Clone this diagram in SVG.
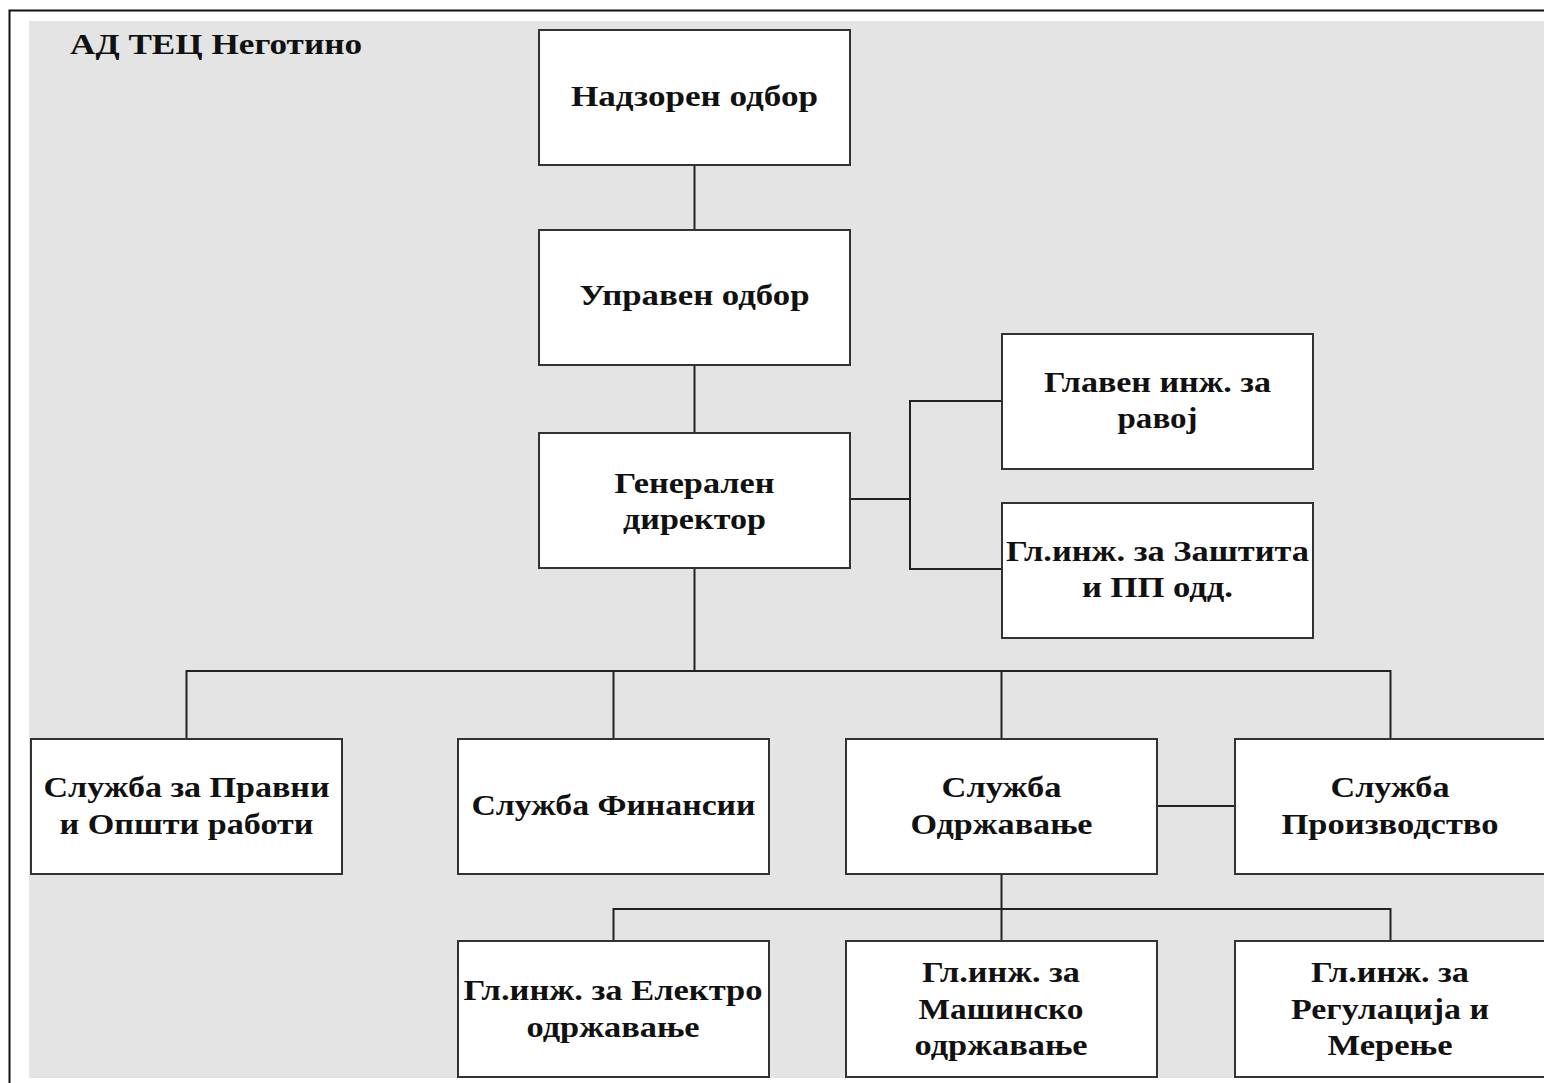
<svg xmlns="http://www.w3.org/2000/svg" width="1544" height="1083" viewBox="0 0 1544 1083">
<style>
.box{fill:#ffffff;stroke:#333333;stroke-width:2}
.lbl{font-family:"Liberation Serif","Times New Roman",serif;font-weight:bold;font-size:30px;fill:#111111;text-anchor:middle}
.ttl{font-family:"Liberation Serif","Times New Roman",serif;font-weight:bold;font-size:30px;fill:#111111}
.con{fill:none;stroke:#222222;stroke-width:2}
</style>
<rect x="0" y="0" width="1544" height="1083" fill="#ffffff"/>
<rect x="29" y="21" width="1515" height="1057" fill="#e4e4e4"/>
<path d="M9.5 1083 V10.5 H1544" fill="none" stroke="#111111" stroke-width="2"/>
<text class="ttl" x="70" y="54" textLength="292" lengthAdjust="spacingAndGlyphs">АД ТЕЦ Неготино</text>
<g id="connectors">
<path class="con" d="M694.5 165 V230 M694.5 365 V433 M694.5 568 V671"/>
<path class="con" d="M186.5 739 V671 H1390.5 V739 M613.5 671 V739 M1001.5 671 V739"/>
<path class="con" d="M850 499 H910 M1002 401 H910 V569 H1002"/>
<path class="con" d="M1157 806 H1235"/>
<path class="con" d="M1001.5 874 V909 M613.5 941 V909 H1390.5 V941 M1001.5 909 V941"/>
</g>
<g id="n1"><rect class="box" x="539" y="30" width="311" height="135"/><text class="lbl" x="694.5" y="106" textLength="247" lengthAdjust="spacingAndGlyphs">Надзорен одбор</text></g>
<g id="n2"><rect class="box" x="539" y="230" width="311" height="135"/><text class="lbl" x="694.5" y="305" textLength="230" lengthAdjust="spacingAndGlyphs">Управен одбор</text></g>
<g id="n3"><rect class="box" x="539" y="433" width="311" height="135"/><text class="lbl" x="694.5" y="493" textLength="160" lengthAdjust="spacingAndGlyphs">Генерален</text><text class="lbl" x="694.5" y="529" textLength="143" lengthAdjust="spacingAndGlyphs">директор</text></g>
<g id="n4"><rect class="box" x="1002" y="334" width="311" height="135"/><text class="lbl" x="1157.5" y="392" textLength="227" lengthAdjust="spacingAndGlyphs">Главен инж. за</text><text class="lbl" x="1157.5" y="428" textLength="80" lengthAdjust="spacingAndGlyphs">равој</text></g>
<g id="n5"><rect class="box" x="1002" y="503" width="311" height="135"/><text class="lbl" x="1157.5" y="561" textLength="303" lengthAdjust="spacingAndGlyphs">Гл.инж. за Заштита</text><text class="lbl" x="1157.5" y="597" textLength="151" lengthAdjust="spacingAndGlyphs">и ПП одд.</text></g>
<g id="n6"><rect class="box" x="31" y="739" width="311" height="135"/><text class="lbl" x="186.5" y="797" textLength="286" lengthAdjust="spacingAndGlyphs">Служба за Правни</text><text class="lbl" x="186.5" y="834" textLength="254" lengthAdjust="spacingAndGlyphs">и Општи работи</text></g>
<g id="n7"><rect class="box" x="458" y="739" width="311" height="135"/><text class="lbl" x="613.5" y="815" textLength="284" lengthAdjust="spacingAndGlyphs">Служба Финансии</text></g>
<g id="n8"><rect class="box" x="846" y="739" width="311" height="135"/><text class="lbl" x="1001.5" y="797" textLength="120" lengthAdjust="spacingAndGlyphs">Служба</text><text class="lbl" x="1001.5" y="834" textLength="182" lengthAdjust="spacingAndGlyphs">Одржавање</text></g>
<g id="n9"><rect class="box" x="1235" y="739" width="311" height="135"/><text class="lbl" x="1390" y="797" textLength="119" lengthAdjust="spacingAndGlyphs">Служба</text><text class="lbl" x="1390" y="834" textLength="217" lengthAdjust="spacingAndGlyphs">Производство</text></g>
<g id="n10"><rect class="box" x="458" y="941" width="311" height="136"/><text class="lbl" x="613" y="1000" textLength="299" lengthAdjust="spacingAndGlyphs">Гл.инж. за Електро</text><text class="lbl" x="613" y="1037" textLength="173" lengthAdjust="spacingAndGlyphs">одржавање</text></g>
<g id="n11"><rect class="box" x="846" y="941" width="311" height="136"/><text class="lbl" x="1001" y="982" textLength="158" lengthAdjust="spacingAndGlyphs">Гл.инж. за</text><text class="lbl" x="1001" y="1019" textLength="165" lengthAdjust="spacingAndGlyphs">Машинско</text><text class="lbl" x="1001" y="1055" textLength="173" lengthAdjust="spacingAndGlyphs">одржавање</text></g>
<g id="n12"><rect class="box" x="1235" y="941" width="311" height="136"/><text class="lbl" x="1390" y="982" textLength="158" lengthAdjust="spacingAndGlyphs">Гл.инж. за</text><text class="lbl" x="1390" y="1019" textLength="198" lengthAdjust="spacingAndGlyphs">Регулација и</text><text class="lbl" x="1390" y="1055" textLength="125" lengthAdjust="spacingAndGlyphs">Мерење</text></g>
</svg>
